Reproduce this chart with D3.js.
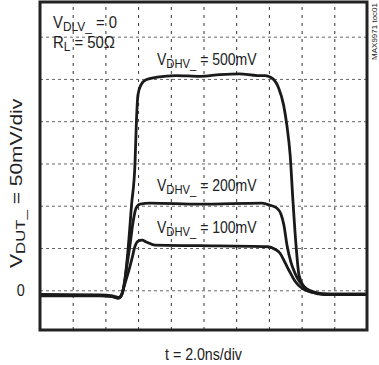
<!DOCTYPE html>
<html>
<head>
<meta charset="utf-8">
<script src="https://d3js.org/d3.v7.min.js"></script>
<style>
  body { margin: 0; background: #fff; }
  svg text { font-family: "Liberation Sans Narrow", "Arial Narrow", "Liberation Sans", sans-serif; fill: #222; }
</style>
</head>
<body>
<svg id="chart"></svg>
<script>
  var w = 379, h = 365;
  var box = {left: 40, right: 367, top: 2, bottom: 330};

  // time in ns, voltage in mV (V_DUT_)
  var t500 = [0, 3.7, 4.4, 4.8, 4.95, 5.14, 5.38, 5.6, 5.81, 5.9, 5.99, 6.18, 6.48, 7.16, 8.3, 9.8, 11.0, 12.2, 13.3, 13.76, 14.25, 14.6, 14.9, 15.1, 15.3, 15.47, 15.66, 15.84, 16.15, 16.6, 17.4, 20];
  var v500 = [-6, -6, -7, -9, -7, 5.9, 47, 101, 150, 201, 231, 243, 249, 252, 254, 253, 255, 256, 254, 254, 250, 239, 219, 195, 160, 106, 53, 18, 4, -2, -5, -5];

  var t200 = [0, 3.7, 4.4, 4.8, 4.95, 5.14, 5.32, 5.5, 5.69, 5.87, 6.12, 6.73, 9.79, 13.58, 14.07, 14.5, 14.74, 14.92, 15.11, 15.35, 15.6, 15.9, 16.27, 16.82, 17.74, 20];
  var v200 = [-5, -5.5, -6.5, -8.5, -7.1, 5.9, 29.6, 53, 80.5, 97, 101.8, 103, 101.8, 103, 100.6, 97, 90, 77, 53, 33, 20, 9.5, 2.4, -2.4, -4.7, -4.7];

  var t100 = [0, 3.7, 4.4, 4.8, 4.95, 5.2, 5.44, 5.63, 5.81, 5.99, 6.24, 6.54, 7.03, 9.79, 13.94, 14.37, 14.68, 14.98, 15.29, 15.6, 16.02, 16.64, 17.74, 20];
  var v100 = [-6.5, -6.5, -7.5, -9.5, -7.1, 8.3, 23.7, 37.9, 52, 58, 59.2, 56.8, 53.3, 52.7, 51.5, 48.5, 43.8, 33, 21.3, 10.7, 2.4, -2.4, -4.7, -4.7];

  var xGrid = [2, 4, 6, 8, 10, 12, 14, 16, 18];
  var yGrid = [0, 50, 100, 150, 200, 250, 300];
  var yTickLabels = [0];

  var traces = [
    {t: t500, v: v500},
    {t: t200, v: v200},
    {t: t100, v: v100}
  ];

  var x = d3.scaleLinear().domain([0, 20]).range([box.left, box.right]);
  var y = d3.scaleLinear().domain([-47, 341]).range([box.bottom, box.top]);

  var svg = d3.select("#chart").attr("width", w).attr("height", h);

  // grid
  svg.append("g")
    .attr("transform", "translate(0," + box.bottom + ")")
    .call(d3.axisBottom(x).tickValues(xGrid).tickSize(-(box.bottom - box.top)).tickFormat(""))
    .call(function(g){ g.select(".domain").remove(); })
    .selectAll("line")
      .attr("stroke", "#333")
      .attr("stroke-dasharray", "3,5");

  svg.append("g")
    .attr("transform", "translate(" + box.left + ",0)")
    .call(d3.axisLeft(y).tickValues(yGrid).tickSize(-(box.right - box.left)).tickFormat(""))
    .call(function(g){ g.select(".domain").remove(); })
    .selectAll("line")
      .attr("stroke", "#666")
      .attr("stroke-dasharray", "3,3");

  // zero label
  svg.append("g")
    .attr("transform", "translate(" + box.left + ",0)")
    .call(d3.axisLeft(y).tickValues(yTickLabels).tickSize(0).tickPadding(18))
    .call(function(g){ g.select(".domain").remove(); })
    .selectAll("text")
      .style("font-family", "'Liberation Sans Narrow', 'Arial Narrow', sans-serif")
      .style("font-size", "17px")
      .attr("fill", "#222")
      .attr("transform", "scale(0.85,1)");

  // traces
  var line = d3.line()
    .x(function(d){ return x(d[0]); })
    .y(function(d){ return y(d[1]); })
    .curve(d3.curveMonotoneX);

  svg.selectAll("path.trace")
    .data(traces)
    .enter().append("path")
    .attr("class", "trace")
    .attr("fill", "none")
    .attr("stroke", "#1a1a1a")
    .attr("stroke-width", 2.8)
    .attr("stroke-linejoin", "round")
    .attr("d", function(s){ return line(s.t.map(function(tt, i){ return [tt, s.v[i]]; })); });

  // frame
  svg.append("rect")
    .attr("x", box.left).attr("y", box.top)
    .attr("width", box.right - box.left).attr("height", box.bottom - box.top)
    .attr("fill", "none").attr("stroke", "#222").attr("stroke-width", 3);

  // annotations, squeezed horizontally to look like a condensed face
  function label(parent, main, sub, rest, size, width) {
    var g = parent.append("g");
    var t = g.append("text").style("font-size", size + "px");
    t.append("tspan").text(main);
    t.append("tspan").attr("dy", 3).style("font-size", (size * 0.8) + "px").text(sub);
    t.append("tspan").attr("dy", -3).text("\u00a0" + rest);
    var bw = t.node().getBBox().width;
    t.attr("transform", "scale(" + (width / bw) + ",1)");
    return g;
  }
  label(svg, "V", "DLV_", "= 0", 17, 64).attr("transform", "translate(53,28)");
  label(svg, "R", "L", "= 50Ω", 17, 62).attr("transform", "translate(53,48)");
  label(svg, "V", "DHV_", "= 500mV", 16, 100).attr("transform", "translate(157,65)");
  label(svg, "V", "DHV_", "= 200mV", 16, 100).attr("transform", "translate(157,191)");
  label(svg, "V", "DHV_", "= 100mV", 16, 100).attr("transform", "translate(157,233)");

  label(svg, "V", "DUT_", "= 50mV/div", 17, 170).attr("transform", "translate(22,268) rotate(-90)");

  var tl = svg.append("g").attr("transform", "translate(165,360)");
  var tt = tl.append("text").style("font-size", "16px").text("t = 2.0ns/div");
  tt.attr("transform", "scale(" + (77 / tt.node().getBBox().width) + ",1)");

  svg.append("text")
    .attr("text-anchor", "end")
    .attr("transform", "translate(377,3) rotate(-90)")
    .style("font-size", "8px")
    .attr("fill", "#555")
    .text("MAX9971 toc01");
</script>
</body>
</html>
